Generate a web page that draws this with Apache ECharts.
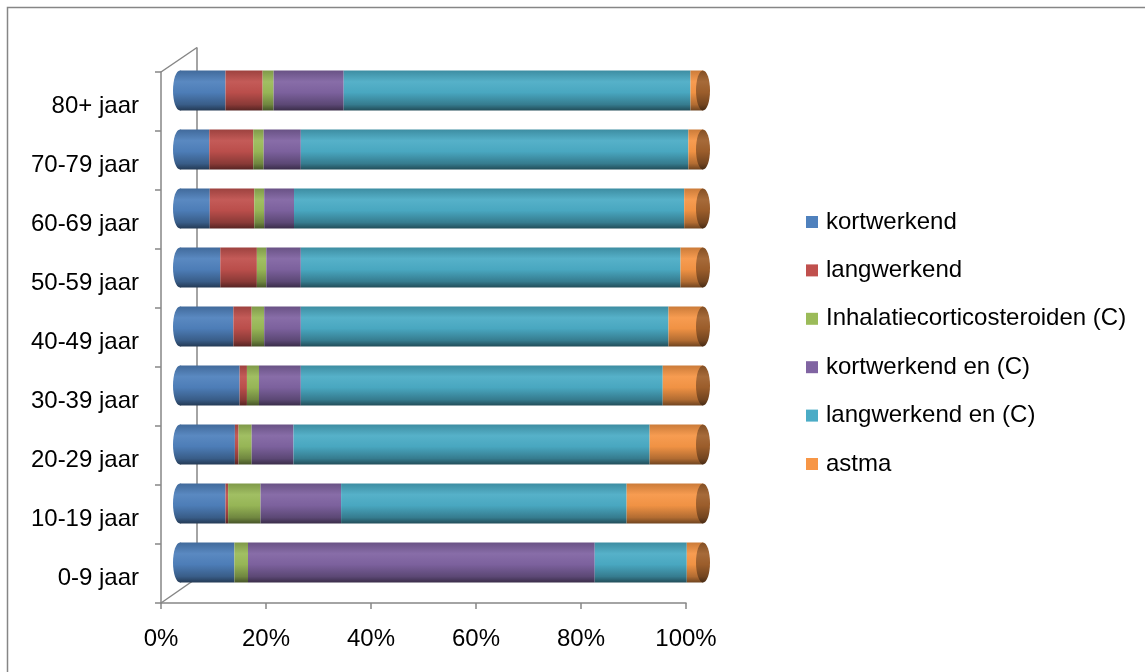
<!DOCTYPE html>
<html><head><meta charset="utf-8">
<script src="https://cdn.jsdelivr.net/npm/echarts@6/dist/echarts.min.js"></script>
<style>html,body{margin:0;padding:0;background:#fff}#c{width:1145px;height:672px}</style>
</head><body><div id="c"></div>
<script>
const categories = ['0-9 jaar','10-19 jaar','20-29 jaar','30-39 jaar','40-49 jaar','50-59 jaar','60-69 jaar','70-79 jaar','80+ jaar'];
const seriesNames = ['kortwerkend','langwerkend','Inhalatiecorticosteroiden (C)','kortwerkend en (C)','langwerkend en (C)','astma'];
const kortwerkend  = [10.4, 8.7, 10.5, 11.4, 10.2, 7.7, 5.7, 5.6, 8.7];
const langwerkend  = [0, 0.5, 0.7, 1.4, 3.5, 7.0, 8.5, 8.4, 7.1];
const inhalatie    = [2.6, 6.2, 2.5, 2.3, 2.4, 1.8, 1.9, 2.0, 2.1];
const kortwerkendC = [66.3, 15.4, 8.0, 8.0, 7.0, 6.6, 5.7, 7.1, 13.4];
const langwerkendC = [17.6, 54.6, 68.1, 69.2, 70.3, 72.6, 74.6, 74.1, 66.3];
const astma        = [3.1, 14.6, 10.2, 7.7, 6.6, 4.3, 3.6, 2.8, 2.4];
const xTickLabels  = ['0%','20%','40%','60%','80%','100%'];

const values = [kortwerkend, langwerkend, inhalatie, kortwerkendC, langwerkendC, astma];
const colors = ['#4F81BD','#C0504D','#9BBB59','#8064A2','#4BACC6','#F79646'];
const FONT = 'Liberation Sans';
const BAR_W = 40;

function shade(hex, f) {
  const n = parseInt(hex.slice(1), 16);
  let r = (n >> 16) & 255, g = (n >> 8) & 255, b = n & 255;
  const m = c => f <= 1 ? Math.round(c * f) : Math.round(c + (255 - c) * (f - 1));
  r = m(r); g = m(g); b = m(b);
  return '#' + ((1 << 24) + (r << 16) + (g << 8) + b).toString(16).slice(1);
}
function cyl(hex) {
  return new echarts.graphic.LinearGradient(0, 0, 0, 1, [
    {offset: 0, color: shade(hex, 0.82)},
    {offset: 0.28, color: shade(hex, 1.06)},
    {offset: 0.55, color: shade(hex, 0.97)},
    {offset: 0.85, color: shade(hex, 0.72)},
    {offset: 1, color: shade(hex, 0.45)}
  ]);
}

const chart = echarts.init(document.getElementById('c'), null, {renderer: 'canvas'});

const barSeries = seriesNames.map((name, i) => ({
  name: name,
  type: 'bar',
  stack: 'total',
  xAxisIndex: 1,
  yAxisIndex: 1,
  barWidth: BAR_W,
  data: values[i],
  itemStyle: {color: cyl(colors[i])},
  emphasis: {disabled: true},
  z: 3
}));

function capSeries(xVal, fillFn, z) {
  return {
    type: 'custom',
    xAxisIndex: 1,
    yAxisIndex: 1,
    silent: true,
    z: z,
    data: categories.map((c, i) => [xVal, i]),
    renderItem: function (params, api) {
      const p = api.coord([api.value(0), api.value(1)]);
      return {
        type: 'ellipse',
        shape: {cx: p[0], cy: p[1], rx: 7, ry: BAR_W / 2},
        style: {fill: fillFn()}
      };
    }
  };
}

const axisColor = '#868686';

const option = {
  animation: false,
  backgroundColor: '#fff',
  textStyle: {fontFamily: FONT},
  legend: {
    orient: 'vertical',
    left: 801,
    top: 205,
    itemWidth: 12,
    itemHeight: 12,
    itemGap: 24.4,
    icon: 'rect',
    data: seriesNames.map((n, i) => ({name: n, itemStyle: {color: colors[i]}})),
    textStyle: {fontFamily: FONT, fontSize: 24, color: '#000', padding: [0, 0, 0, 3], lineHeight: 24}
  },
  grid: [
    {left: 161, top: 72, width: 525, height: 531},
    {left: 180, top: 61, width: 523, height: 531}
  ],
  xAxis: [
    {
      gridIndex: 0, type: 'value', min: 0, max: 100, interval: 20,
      axisLine: {show: true, lineStyle: {color: axisColor, width: 1.5}},
      axisTick: {show: true, length: 6, lineStyle: {color: axisColor, width: 1.5}},
      splitLine: {show: false},
      axisLabel: {
        fontFamily: FONT, fontSize: 24, color: '#000', margin: 24,
        formatter: v => xTickLabels[Math.round(v / 20)]
      }
    },
    {gridIndex: 1, type: 'value', min: 0, max: 100, show: false}
  ],
  yAxis: [
    {
      gridIndex: 0, type: 'category', data: categories,
      axisLine: {show: true, lineStyle: {color: axisColor, width: 1.5}},
      axisTick: {show: true, length: 6, lineStyle: {color: axisColor, width: 1.5}},
      axisLabel: {fontFamily: FONT, fontSize: 24, color: '#000', margin: 22,
                  verticalAlign: 'top', lineHeight: 10, interval: 0},
      splitLine: {show: false}
    },
    {gridIndex: 1, type: 'category', data: categories, show: false}
  ],
  graphic: [
    {type: 'rect', z: 0, shape: {x: 7.5, y: 7.5, width: 1200, height: 700},
     style: {fill: 'none', stroke: axisColor, lineWidth: 1.5}},
    {type: 'line', z: 0, shape: {x1: 161, y1: 72, x2: 197, y2: 47.5},
     style: {stroke: axisColor, lineWidth: 1.5}},
    {type: 'line', z: 0, shape: {x1: 197, y1: 47.5, x2: 197, y2: 578},
     style: {stroke: axisColor, lineWidth: 1.5}},
    {type: 'line', z: 0, shape: {x1: 161, y1: 603, x2: 197, y2: 578},
     style: {stroke: axisColor, lineWidth: 1.5}}
  ],
  series: [
    capSeries(0, () => cyl(colors[0]), 2),
    ...barSeries,
    capSeries(100, () => cyl('#A0602C'), 4)
  ]
};
chart.setOption(option);
</script>
</body></html>
